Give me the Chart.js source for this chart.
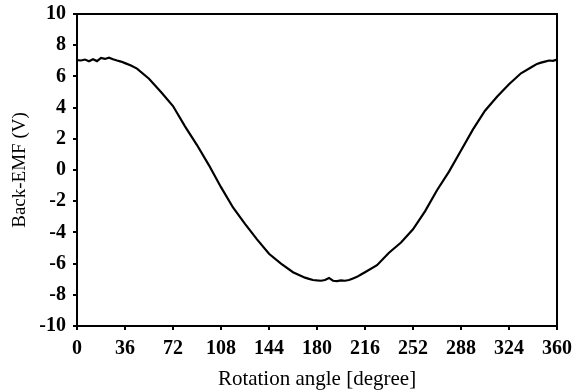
<!DOCTYPE html>
<html>
<head>
<meta charset="utf-8">
<script src="https://cdn.jsdelivr.net/npm/chart.js@4/dist/chart.umd.min.js"></script>
<style>
  html, body { margin: 0; padding: 0; background: #fff; }
  #wrap { width: 576px; height: 392px; }
</style>
</head>
<body>
<div id="wrap"><canvas id="emfChart" width="576" height="392"></canvas></div>
<script>
//Rotation angle (degree) and back-EMF (V)
const angles = [0, 3, 6, 9, 12, 15, 18, 21, 24, 27, 30, 33, 36, 40.5, 45, 54, 63, 72, 81, 90,
    99, 108, 117, 126, 135, 144, 153, 162, 171, 174, 177, 180, 183, 186, 189, 192, 195, 198,
    201, 204, 207, 210, 213, 216, 225, 234, 243, 252, 261, 270, 279, 288, 297, 306, 315, 324,
    333, 342, 345, 348, 351, 354, 357, 360
];
const backEmf = [7.05, 7.02, 7.08, 6.97, 7.1, 6.98, 7.18, 7.12, 7.2, 7.1, 7.02, 6.95, 6.85, 6.7, 6.5, 5.85, 5.0, 4.1, 2.8, 1.6,
    0.3, -1.1, -2.4, -3.45, -4.45, -5.37, -6.0, -6.55, -6.9, -6.98, -7.05, -7.08, -7.1, -7.05, -6.92, -7.1, -7.12, -7.08,
    -7.1, -7.05, -6.95, -6.85, -6.7, -6.55, -6.1, -5.3, -4.65, -3.8, -2.65, -1.3, -0.1, 1.25, 2.6, 3.8, 4.7, 5.5,
    6.2, 6.65, 6.8, 6.88, 6.95, 7.02, 7.0, 7.08
];

//Axis ticks
const xTicks = [0, 36, 72, 108, 144, 180, 216, 252, 288, 324, 360];
const yTicks = [-10, -8, -6, -4, -2, 0, 2, 4, 6, 8, 10];

const points = angles.map((a, i) => ({x: a, y: backEmf[i]}));

//Box around the plot area
const frame = {
    id: 'frame',
    afterDraw(chart) {
        const {ctx, chartArea} = chart;
        ctx.save();
        ctx.strokeStyle = '#000';
        ctx.lineWidth = 2;
        ctx.strokeRect(chartArea.left, chartArea.top, chartArea.right - chartArea.left, chartArea.bottom - chartArea.top);
        ctx.restore();
    }
};

//Fixed axis sizes so the plot box sits where it does in the figure
function fixSize(prop, size) {
    return (scale) => {
        scale[prop] = size;
        scale.paddingTop = 0;
        scale.paddingBottom = 0;
        scale.paddingLeft = 0;
        scale.paddingRight = 0;
    };
}

const serif = '"Liberation Serif", "Times New Roman", serif';
const tickFont = {family: serif, size: 20, weight: 'bold'};

const emfChart = new Chart(
    document.getElementById('emfChart'),
    {
        type: 'scatter',
        data: {
            datasets: [{
                data: points,
                showLine: true,
                borderColor: '#000',
                borderWidth: 2.2,
                pointRadius: 0,
                tension: 0,
            }]
        },
        options: {
            responsive: false,
            animation: false,
            layout: {
                padding: {left: 0, top: 14, right: 19, bottom: 0}
            },
            plugins: {
                legend: {display: false},
                tooltip: {enabled: false},
            },
            scales: {
                x: {
                    type: 'linear',
                    min: 0,
                    max: 360,
                    afterBuildTicks: (scale) => { scale.ticks = xTicks.map(v => ({value: v})); },
                    afterFit: fixSize('height', 66),
                    border: {color: '#000', width: 2},
                    grid: {display: true, drawOnChartArea: false, drawTicks: true, tickLength: 4, color: '#000', lineWidth: 2},
                    ticks: {color: '#000', font: tickFont, padding: 7, maxRotation: 0},
                    title: {display: true, text: 'Rotation angle [degree]', color: '#000',
                        font: {family: serif, size: 21, weight: 'normal'}, padding: {top: 0, bottom: 0}},
                },
                y: {
                    type: 'linear',
                    min: -10,
                    max: 10,
                    afterBuildTicks: (scale) => { scale.ticks = yTicks.map(v => ({value: v})); },
                    afterFit: fixSize('width', 77),
                    border: {color: '#000', width: 2},
                    grid: {display: true, drawOnChartArea: false, drawTicks: true, tickLength: 4, color: '#000', lineWidth: 2},
                    ticks: {color: '#000', font: tickFont, padding: 7},
                    title: {display: true, text: 'Back-EMF (V)', color: '#000',
                        font: {family: serif, size: 19, weight: 'normal'}, padding: {top: 9, bottom: 0}},
                },
            },
        },
        plugins: [frame]
    }
);
</script>
</body>
</html>
